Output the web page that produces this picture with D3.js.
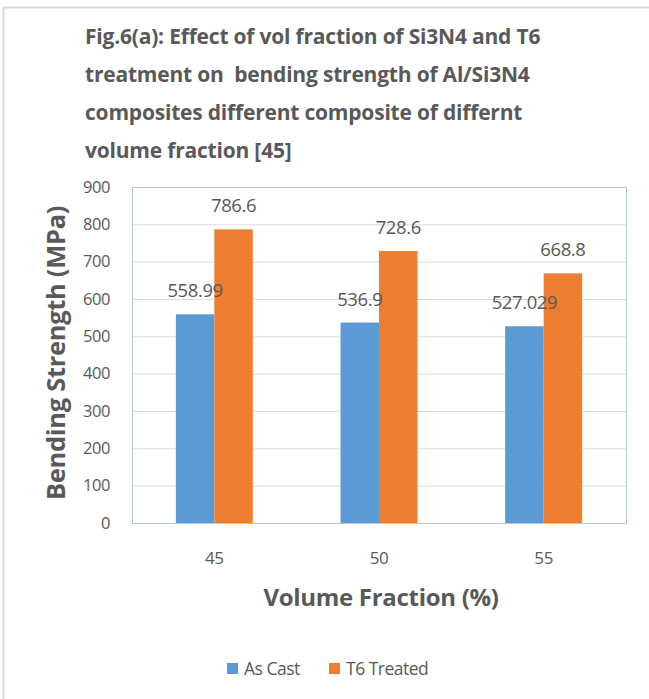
<!DOCTYPE html>
<html><head><meta charset="utf-8">
<script src="https://cdn.jsdelivr.net/npm/d3@7"></script>
<style>body{margin:0;background:#fff}svg{display:block}</style>
</head><body>
<svg id="c" width="649" height="699"></svg>
<script>
const categories = ["45", "50", "55"];
const seriesNames = ["As Cast", "T6 Treated"];
const asCast = [558.99, 536.9, 527.029];
const t6Treated = [786.6, 728.6, 668.8];
const asCastLabels = ["558.99", "536.9", "527.029"];
const t6Labels = ["786.6", "728.6", "668.8"];
const yTicks = [0, 100, 200, 300, 400, 500, 600, 700, 800, 900];
const colors = ["#5B9BD5", "#ED7D31"];
const titleLines = ["Fig.6(a): Effect of vol fraction of Si3N4 and T6",
  "treatment on  bending strength of Al/Si3N4",
  "composites different composite of differnt",
  "volume fraction [45]"];

const svg = d3.select("#c");
const font = "'Open Sans', 'Noto Sans', sans-serif";
const txt = "#595959";

// outer border
svg.append("rect").attr("x", 3.5).attr("y", 7.5).attr("width", 660).attr("height", 700)
  .attr("fill", "none").attr("stroke", "#d9d9d9").attr("stroke-width", 2);

// title
titleLines.forEach((t, i) => {
  svg.append("text").attr("x", 85).attr("y", 44 + i * 38).text(t)
    .style("white-space", "pre")
    .attr("font-family", font).attr("font-weight", "bold").attr("font-size", 21)
    .attr("fill", txt).attr("letter-spacing", -0.2);
});

const L = 132, R = 626, T = 187, B = 523;
const x0 = d3.scaleBand().domain(categories).range([L, R]).paddingInner(0).paddingOuter(0);
const x1 = d3.scaleBand().domain(seriesNames).range([0, x0.bandwidth()]).paddingInner(0).paddingOuter(1.14);
const y = d3.scaleLinear().domain([0, 900]).range([B, T]);

// gridlines
svg.append("g").selectAll("line").data(yTicks).join("line")
  .attr("x1", L).attr("x2", R).attr("y1", d => y(d) + 0.5).attr("y2", d => y(d) + 0.5)
  .attr("stroke", "#d9d9d9").attr("stroke-width", 1);

// plot border
svg.append("rect").attr("x", L + 0.5).attr("y", T + 0.5).attr("width", R - L).attr("height", B - T)
  .attr("fill", "none").attr("stroke", "#b4c7dc").attr("stroke-width", 1);

// y axis
const yAxis = d3.axisLeft(y).tickValues(yTicks).tickSize(0).tickPadding(22);
const gy = svg.append("g").attr("transform", `translate(${L},0)`).call(yAxis);
gy.select(".domain").remove();
gy.selectAll("text").attr("font-family", font).attr("font-size", 16.5).attr("fill", txt)
  .attr("letter-spacing", -0.4);

// x axis
const xAxis = d3.axisBottom(x0).tickSize(0).tickPadding(29);
const gx = svg.append("g").attr("transform", `translate(0,${B})`).call(xAxis);
gx.select(".domain").remove();
gx.selectAll("text").attr("font-family", font).attr("font-size", 17).attr("fill", txt)
  .attr("letter-spacing", -0.4);

// bars
const data = categories.map((c, i) => ({c, vals: [
  {s: seriesNames[0], v: asCast[i], l: asCastLabels[i], col: colors[0]},
  {s: seriesNames[1], v: t6Treated[i], l: t6Labels[i], col: colors[1]}]}));
const g = svg.append("g").selectAll("g").data(data).join("g")
  .attr("transform", d => `translate(${x0(d.c)},0)`);
g.selectAll("rect").data(d => d.vals).join("rect")
  .attr("x", d => x1(d.s)).attr("width", x1.bandwidth())
  .attr("y", d => y(d.v)).attr("height", d => y(0) - y(d.v))
  .attr("fill", d => d.col);
g.selectAll("text").data(d => d.vals).join("text")
  .attr("x", d => x1(d.s) + x1.bandwidth() / 2).attr("y", d => y(d.v) - 17)
  .attr("text-anchor", "middle").text(d => d.l)
  .attr("font-family", font).attr("font-size", 18.5).attr("fill", txt).attr("letter-spacing", -0.4);

// axis titles
svg.append("text").attr("transform", "translate(65,353) rotate(-90)")
  .attr("text-anchor", "middle").text("Bending Strength (MPa)")
  .attr("font-family", font).attr("font-weight", "bold").attr("font-size", 25.5).attr("fill", txt)
  .attr("letter-spacing", -0.3);
svg.append("text").attr("x", 381).attr("y", 606)
  .attr("text-anchor", "middle").text("Volume Fraction (%)")
  .attr("font-family", font).attr("font-weight", "bold").attr("font-size", 24).attr("fill", txt)
  .attr("letter-spacing", -0.3);

// legend
const leg = [{n: seriesNames[0], x: 227}, {n: seriesNames[1], x: 329}];
leg.forEach((d, i) => {
  svg.append("rect").attr("x", d.x).attr("y", 663).attr("width", 11).attr("height", 11).attr("fill", colors[i]);
  svg.append("text").attr("x", d.x + 17).attr("y", 675).text(d.n)
    .attr("font-family", font).attr("font-size", 17.5).attr("fill", txt).attr("letter-spacing", -0.5);
});
</script>
</body></html>
